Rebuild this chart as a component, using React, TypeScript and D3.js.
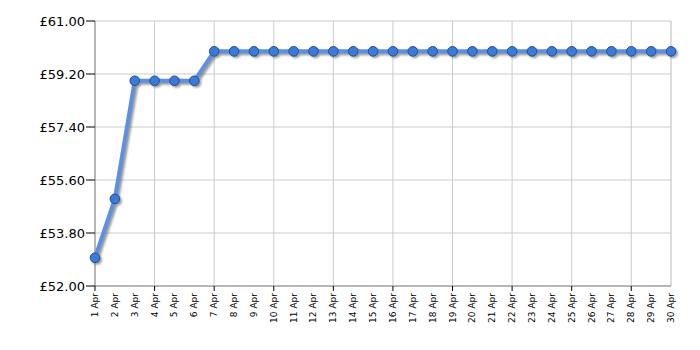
import React from "react";
import * as d3 from "d3";

const days: string[] = Array.from({ length: 30 }, (_, i) => `${i + 1} Apr`);
const prices: number[] = [
  52.96, 54.96, 58.97, 58.97, 58.97, 58.97, 59.97, 59.97, 59.97, 59.97,
  59.97, 59.97, 59.97, 59.97, 59.97, 59.97, 59.97, 59.97, 59.97, 59.97,
  59.97, 59.97, 59.97, 59.97, 59.97, 59.97, 59.97, 59.97, 59.97, 59.97,
];
const yTicks: number[] = [52, 53.8, 55.6, 57.4, 59.2, 61];
const xGridEvery = 3;

export default function App() {
  const W = 700, H = 350;
  const left = 95, right = 671, top = 21, bottom = 286;
  const x = d3.scalePoint<string>().domain(days).range([left, right]);
  const y = d3.scaleLinear().domain([52, 61]).range([bottom, top]);
  const line = d3
    .line<number>()
    .x((_, i) => x(days[i]) as number)
    .y((d) => y(d));
  const path = line(prices) || "";
  const font = "Verdana, 'DejaVu Sans', sans-serif";

  return (
    <svg width={W} height={H} style={{ position: "absolute", left: 0, top: 0 }}>
      <defs>
        <filter id="blur" x="-20%" y="-20%" width="140%" height="140%">
          <feGaussianBlur stdDeviation="1" />
        </filter>
      </defs>
      <rect width={W} height={H} fill="#fff" />
      {yTicks.map((t) => (
        <line key={"h" + t} x1={left} x2={right} y1={y(t)} y2={y(t)} stroke="#cccccc" strokeWidth={1} />
      ))}
      {days.map((d, i) =>
        i % xGridEvery === 0 ? (
          <line key={"v" + d} x1={x(d)} x2={x(d)} y1={top} y2={bottom} stroke="#cccccc" strokeWidth={1} />
        ) : null
      )}
      <line x1={right} x2={right} y1={top} y2={bottom} stroke="#bbbbbb" strokeWidth={1} />
      <line x1={left} x2={left} y1={top} y2={bottom} stroke="#888" strokeWidth={1} />
      <line x1={left} x2={right} y1={bottom} y2={bottom} stroke="#888" strokeWidth={1} />
      {yTicks.map((t) => (
        <g key={"yt" + t}>
          <line x1={left - 9} x2={left} y1={y(t)} y2={y(t)} stroke="#000" strokeWidth={1} />
          <text x={left - 10} y={y(t)} dy="0.35em" textAnchor="end" fontFamily={font} fontSize={13} fill="#000">
            {"£" + t.toFixed(2)}
          </text>
        </g>
      ))}
      {days.map((d, i) => (
        <g key={"xt" + d}>
          {i % xGridEvery === 0 ? (
            <line x1={x(d)} x2={x(d)} y1={bottom} y2={bottom + 5} stroke="#000" strokeWidth={1} />
          ) : null}
          <text
            transform={`translate(${(x(d) as number) + 3},${bottom + 7}) rotate(-90)`}
            textAnchor="end"
            fontFamily={font}
            fontSize={9}
            fill="#000"
          >
            {d}
          </text>
        </g>
      ))}
      <g transform="translate(2,2)" filter="url(#blur)" opacity={0.6}>
        <path d={path} fill="none" stroke="#555" strokeWidth={4} strokeLinejoin="round" />
        {prices.map((p, i) => (
          <circle key={"s" + i} cx={x(days[i])} cy={y(p)} r={5} fill="#555" />
        ))}
      </g>
      <path d={path} fill="none" stroke="#5b91e0" strokeWidth={4} strokeLinejoin="round" />
      {prices.map((p, i) => (
        <circle key={"c" + i} cx={x(days[i])} cy={y(p)} r={4.8} fill="#3d7ad6" stroke="#1f4f99" strokeWidth={1} />
      ))}
    </svg>
  );
}
